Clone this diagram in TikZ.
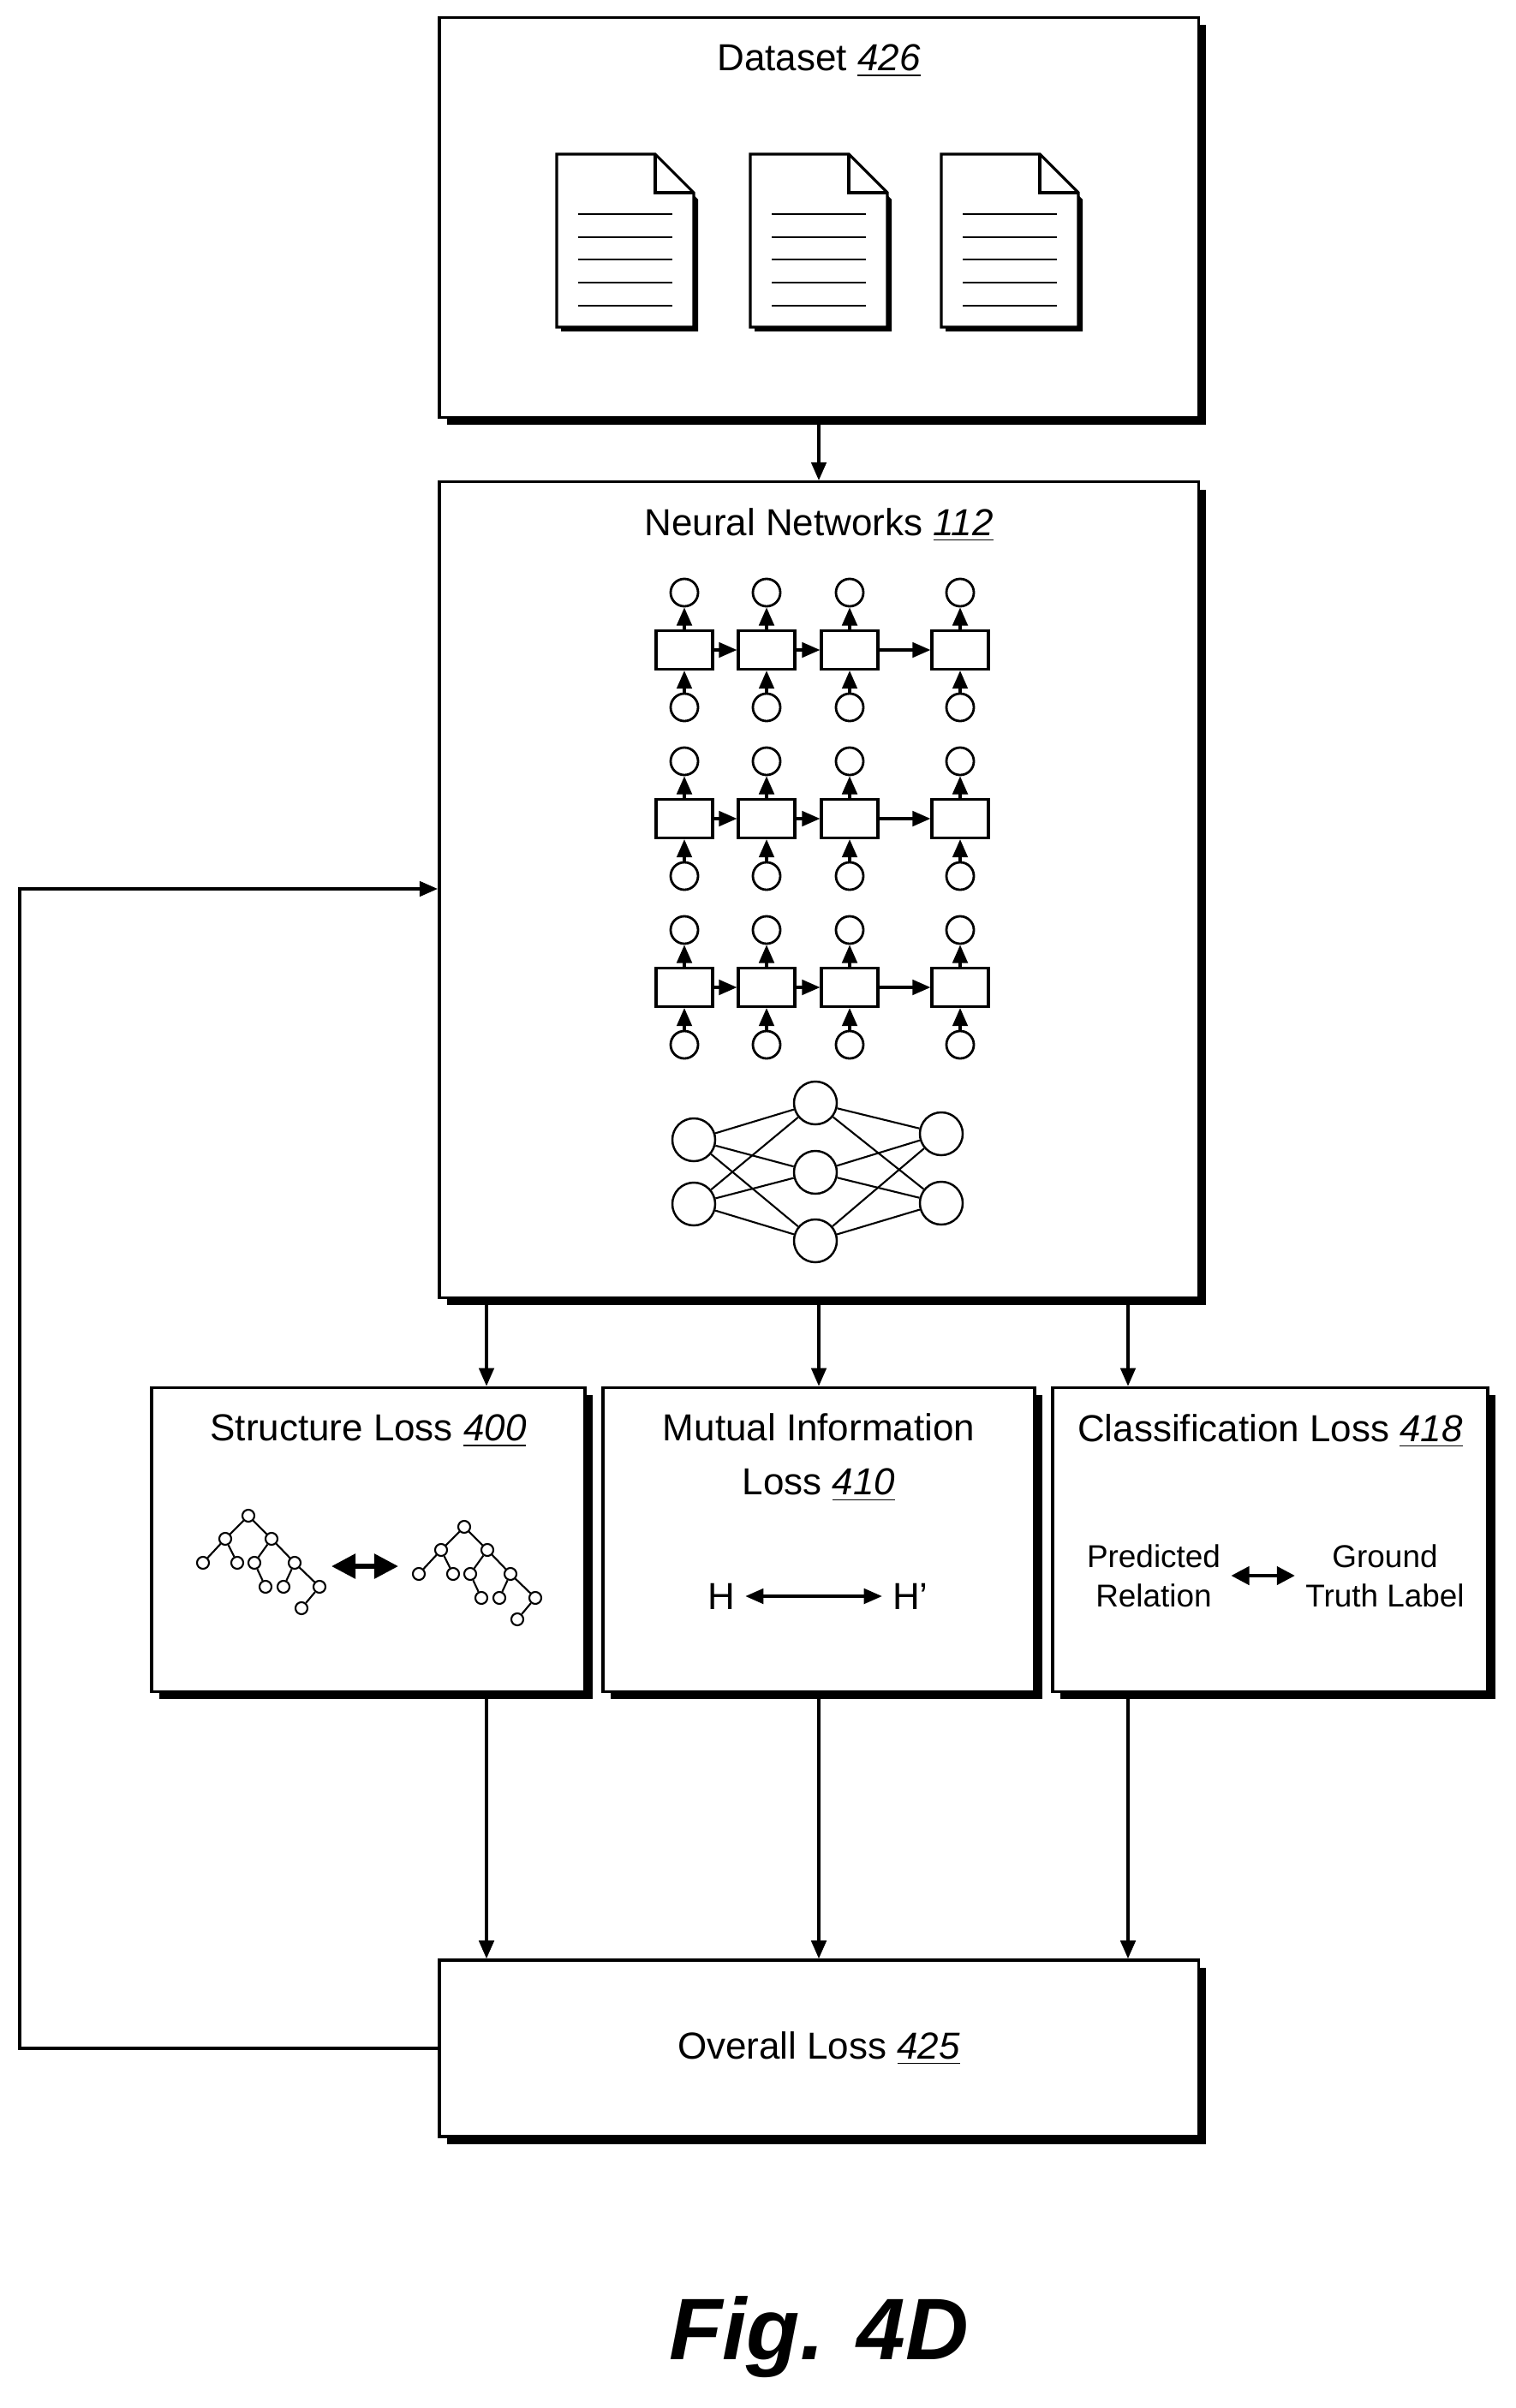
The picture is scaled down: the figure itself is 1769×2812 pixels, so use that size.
\documentclass[tikz,border=0pt]{standalone}
\usepackage{fontspec}
\setmainfont{Liberation Sans}
\usetikzlibrary{arrows.meta,positioning,shadows}
\newcommand{\refnum}[1]{\underline{\textit{#1}}}
\begin{document}
\begin{tikzpicture}[
    x=0.01cm, y=-0.01cm,
    font=\fontsize{12.5}{16}\selectfont,
    box/.style={rectangle, draw, line width=1pt, fill=white, drop shadow={shadow xshift=2.5pt, shadow yshift=-2.5pt, fill=black, opacity=1}},
    arrow/.style={-{Triangle[length=6pt,width=5pt]}, line width=0.9pt},
    cell/.style={rectangle, draw, line width=0.9pt, minimum width=0.66cm, minimum height=0.45cm, inner sep=0pt},
    unit/.style={circle, draw, line width=0.8pt, minimum size=0.32cm, inner sep=0pt},
    neuron/.style={circle, draw, line width=0.7pt, minimum size=0.5cm, inner sep=0pt},
    leaf/.style={circle, draw, line width=0.6pt, minimum size=0.14cm, inner sep=0pt}
]
\useasboundingbox (0,0) rectangle (1769,2812);

% boxes
\node[box, minimum width=8.86cm, minimum height=4.67cm] (dataset) at (956,254) {};
\node[box, minimum width=8.86cm, minimum height=9.52cm] (nn) at (956,1039) {};
\node[box, minimum width=5.06cm, minimum height=3.55cm] (sloss) at (430,1798) {};
\node[box, minimum width=5.04cm, minimum height=3.55cm] (mloss) at (956,1798) {};
\node[box, minimum width=5.08cm, minimum height=3.55cm] (closs) at (1483,1798) {};
\node[box, minimum width=8.86cm, minimum height=2.06cm] (overall) at (956,2392) {};

% titles
\node (dtitle) at (956,71) {Dataset \refnum{426}};
\node (ntitle) at (956,613) {Neural Networks \refnum{112}};
\node (stitle) at (430,1671) {Structure Loss \refnum{400}};
\node[align=center] (mtitle) at (956,1702) {Mutual Information\\[2pt]Loss \refnum{410}};
\node (ctitle) at (1483,1671) {Classification Loss \refnum{418}};
\node (otitle) at (956,2392) {Overall Loss \refnum{425}};

% documents
\foreach \dx in {650,876,1099} {
  \fill (\dx+5,185) -- (\dx+117,185) -- (\dx+165,233) -- (\dx+165,387) -- (\dx+5,387) -- cycle;
  \draw[line width=0.9pt, fill=white] (\dx,180) -- (\dx+115,180) -- (\dx+160,225) -- (\dx+160,382) -- (\dx,382) -- cycle;
  \draw[line width=0.9pt] (\dx+115,180) -- (\dx+115,225) -- (\dx+160,225);
  \foreach \ly in {250,277,303,330,357}
    \draw[line width=0.5pt] (\dx+25,\ly) -- (\dx+135,\ly);
}

% recurrent rows
\foreach \r/\ry in {a/759,b/956,c/1153} {
  \foreach \c/\cx in {1/799,2/895,3/992,4/1121} {
    \node[cell] (\r\c) at (\cx,\ry) {};
    \node[unit] (\r\c o) at (\cx,\ry-67) {};
    \node[unit] (\r\c i) at (\cx,\ry+67) {};
    \draw[arrow] (\r\c i) -- (\r\c);
    \draw[arrow] (\r\c) -- (\r\c o);
  }
  \draw[arrow] (\r1) -- (\r2);
  \draw[arrow] (\r2) -- (\r3);
  \draw[arrow] (\r3) -- (\r4);
}

% feed-forward network
\node[neuron] (l1) at (810,1331) {};
\node[neuron] (l2) at (810,1406) {};
\node[neuron] (m1) at (952,1288) {};
\node[neuron] (m2) at (952,1369) {};
\node[neuron] (m3) at (952,1449) {};
\node[neuron] (r1) at (1099,1324) {};
\node[neuron] (r2) at (1099,1405) {};
\foreach \m in {m1,m2,m3} {
  \foreach \l in {l1,l2} \draw[line width=0.6pt] (\l) -- (\m);
  \foreach \rr in {r1,r2} \draw[line width=0.6pt] (\m) -- (\rr);
}

% trees
\foreach \t/\tx/\ty in {p/0/0,q/252/13} {
  \begin{scope}[shift={(\tx,\ty)}]
    \node[leaf] (\t0) at (290,1770) {};
    \node[leaf] (\t1) at (263,1797) {};
    \node[leaf] (\t2) at (317,1797) {};
    \node[leaf] (\t3) at (237,1825) {};
    \node[leaf] (\t4) at (277,1825) {};
    \node[leaf] (\t5) at (297,1825) {};
    \node[leaf] (\t6) at (344,1825) {};
    \node[leaf] (\t7) at (310,1853) {};
    \node[leaf] (\t8) at (331,1853) {};
    \node[leaf] (\t9) at (373,1853) {};
    \node[leaf] (\t10) at (352,1878) {};
  \end{scope}
  \draw[line width=0.6pt] (\t0) -- (\t1) (\t0) -- (\t2) (\t1) -- (\t3) (\t1) -- (\t4)
    (\t2) -- (\t5) (\t2) -- (\t6) (\t5) -- (\t7) (\t6) -- (\t8) (\t6) -- (\t9) (\t9) -- (\t10);
}
\draw[{Triangle[length=8pt,width=8pt]}-{Triangle[length=8pt,width=8pt]}, line width=1.6pt] (387,1829) -- (465,1829);

% mutual information
\node (h) at (842,1864) {H};
\node (hp) at (1063,1864) {H’};
\draw[{Triangle[length=6pt,width=5pt]}-{Triangle[length=6pt,width=5pt]}, line width=0.9pt] (h) -- (hp);

% classification
\node[align=center, font=\fontsize{10.5}{13}\selectfont] (pred) at (1347,1840) {Predicted\\Relation};
\node[align=center, font=\fontsize{10.5}{13}\selectfont] (gt) at (1617,1840) {Ground\\Truth Label};
\draw[{Triangle[length=6pt,width=6pt]}-{Triangle[length=6pt,width=6pt]}, line width=1.2pt] (pred) -- (gt);

% connectors
\coordinate (lx) at (568,0);
\coordinate (rx) at (1317,0);
\draw[arrow] (dataset) -- (nn);
\draw[arrow] (nn.south -| lx) -- (sloss.north -| lx);
\draw[arrow] (nn) -- (mloss);
\draw[arrow] (nn.south -| rx) -- (closs.north -| rx);
\draw[arrow] (sloss.south -| lx) -- (overall.north -| lx);
\draw[arrow] (mloss) -- (overall);
\draw[arrow] (closs.south -| rx) -- (overall.north -| rx);
\coordinate (fb) at (23,0);
\draw[arrow] (overall.west) -- (fb |- overall.west) |- (nn.west |- 0,1038);

\node[font=\bfseries\itshape\fontsize{29}{34}\selectfont] (fig) at (956,2729) {Fig. 4D};
\end{tikzpicture}
\end{document}
